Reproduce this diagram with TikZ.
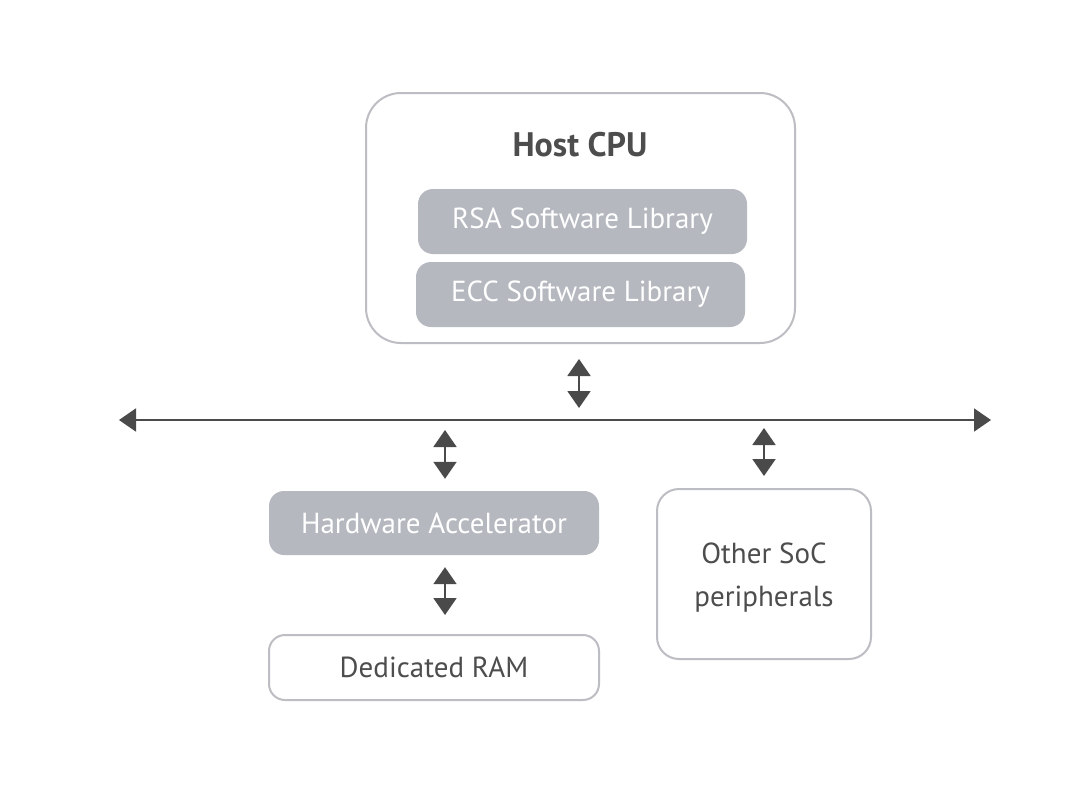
\documentclass[tikz,border=0pt]{standalone}
\usepackage{fontspec}
\setmainfont{PT Sans}
\usetikzlibrary{arrows.meta}
\definecolor{boxline}{HTML}{BDBEC3}
\definecolor{boxfill}{HTML}{B5B8BF}
\definecolor{txt}{HTML}{4D4D4D}
\definecolor{arr}{HTML}{4A4A4A}
\tikzset{
  outerbox/.style={draw=boxline, line width=2pt, fill=white, rounded corners=#1, inner sep=0pt, text=txt},
  outerbox/.default=16pt,
  greybox/.style={fill=boxfill, rounded corners=15pt, inner sep=0pt, text=white, font=\fontsize{29}{34}\selectfont},
  dbl/.style={draw=arr, line width=2pt, {Triangle[length=17pt,width=23pt]}-{Triangle[length=17pt,width=23pt]}},
}
\begin{document}
\begin{tikzpicture}[x=1pt,y=-1pt]
\useasboundingbox[fill=white] (0,0) rectangle (1088,795);
% Host CPU
\node[outerbox=35pt, minimum width=429pt, minimum height=250pt] (host) at (580.5,218) {};
\node[text=txt, font=\fontsize{34}{40}\selectfont\bfseries] (hostlbl) at (580,145) {Host CPU};
\node[greybox, minimum width=329pt, minimum height=65pt] (rsa) at (582.5,221.5) {RSA Software Library};
\node[greybox, minimum width=329pt, minimum height=65pt] (ecc) at (580.5,294.5) {ECC Software Library};
% Lower boxes
\node[greybox, minimum width=330pt, minimum height=64pt] (hw) at (434,523) {Hardware Accelerator};
\node[outerbox, minimum width=330pt, minimum height=65pt, font=\fontsize{29}{34}\selectfont] (ram) at (434,667.5) {Dedicated RAM};
\node[outerbox=22pt, minimum width=214pt, minimum height=170pt, font=\fontsize{29}{43}\selectfont, align=center] (soc) at (764,574) {};
\node[text=txt, font=\fontsize{29}{43}\selectfont, align=center] (soclbl) at (764,578) {Other SoC\\peripherals};
% Bus
\coordinate (busL) at (119,420);
\coordinate (busR) at (991,420);
\draw[dbl] (busL) -- (busR);
\coordinate (b1) at (579,420);
\coordinate (b2) at (445,420);
\coordinate (b3) at (764,420);
\draw[dbl, shorten <=15pt, shorten >=12pt] (b1 |- host.south) -- (b1);
\draw[dbl, shorten <=10pt, shorten >=12pt] (b2) -- (b2 |- hw.north);
\draw[dbl, shorten <=8pt, shorten >=12pt] (b3) -- (b3 |- soc.north);
\draw[dbl, shorten <=12pt, shorten >=19pt] (b2 |- hw.south) -- (b2 |- ram.north);
\end{tikzpicture}
\end{document}
